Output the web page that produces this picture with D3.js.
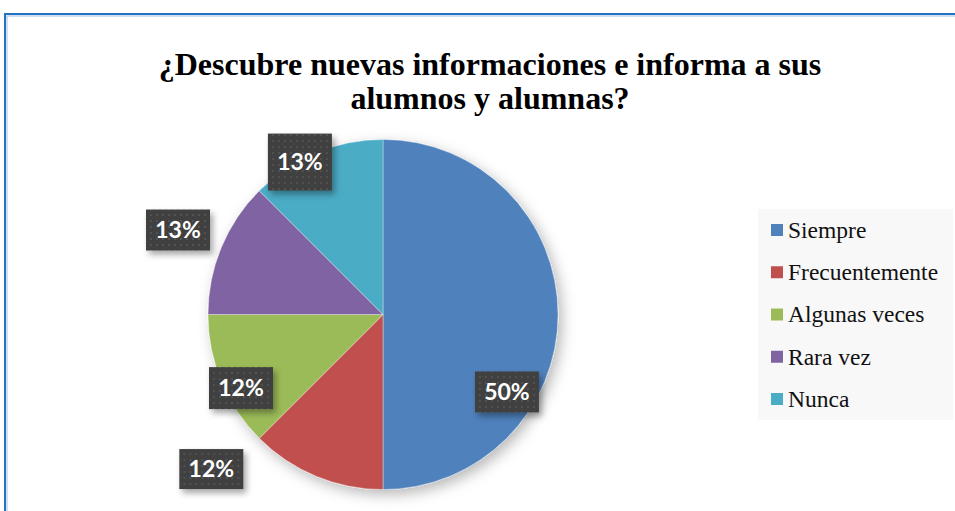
<!DOCTYPE html>
<html>
<head>
<meta charset="utf-8">
<script src="https://cdn.jsdelivr.net/npm/d3@7"></script>
<style>
  body { margin: 0; background: #fff; }
  svg { display: block; }
  .serif { font-family: "Liberation Serif", "Times New Roman", serif; }
  .sans { font-family: Lato, "Open Sans", sans-serif; }
</style>
</head>
<body>
<div id="chart"></div>
<script>
// data
const categories = ["Siempre", "Frecuentemente", "Algunas veces", "Rara vez", "Nunca"]
const values = [50, 12.5, 12.5, 12.5, 12.5]
const valueLabels = ["50%", "12%", "12%", "13%", "13%"]
const colors = ["#4f81bd", "#c0504d", "#9bbb59", "#8064a2", "#4bacc6"]
const titleLines = ["¿Descubre nuevas informaciones e informa a sus", "alumnos y alumnas?"]

// where Excel put each data label: angle (deg, clockwise from top) and distance as share of radius
const labelPlacement = [[122, 0.835], [228, 1.32], [242.6, 0.914], [292.4, 1.267], [331.4, 0.992]]
const labelBoxH = [41, 40, 42, 41, 57]

function drawPie() {
  const width = 955
  const height = 511
  const cx = 383
  const cy = 314.5
  const radius = 175

  const svg = d3.select("#chart")
    .append("svg")
      .attr("width", width)
      .attr("height", height)

  const defs = svg.append("defs")

  const pieShadow = defs.append("filter")
    .attr("id", "pieShadow")
    .attr("x", "-20%").attr("y", "-20%")
    .attr("width", "140%").attr("height", "140%")
  pieShadow.append("feDropShadow")
    .attr("dx", 4).attr("dy", 5)
    .attr("stdDeviation", 7)
    .attr("flood-color", "#000")
    .attr("flood-opacity", 0.28)

  const boxShadow = defs.append("filter")
    .attr("id", "boxShadow")
    .attr("x", "-30%").attr("y", "-30%")
    .attr("width", "160%").attr("height", "160%")
  boxShadow.append("feDropShadow")
    .attr("dx", 3).attr("dy", 4)
    .attr("stdDeviation", 3)
    .attr("flood-color", "#000")
    .attr("flood-opacity", 0.35)

  const dots = defs.append("pattern")
    .attr("id", "dots")
    .attr("width", 6).attr("height", 6)
    .attr("patternUnits", "userSpaceOnUse")
  dots.append("rect").attr("width", 6).attr("height", 6).attr("fill", "#3f3f3f")
  dots.append("rect").attr("x", 2).attr("y", 2).attr("width", 2).attr("height", 2).attr("fill", "#525252")

  // chart frame
  svg.append("rect")
    .attr("x", 5).attr("y", 14)
    .attr("width", 1000).attr("height", 600)
    .attr("fill", "none")
    .attr("stroke", "#2473c2")
    .attr("stroke-width", 2)
  svg.append("rect")
    .attr("x", 7).attr("y", 16)
    .attr("width", 1000).attr("height", 600)
    .attr("fill", "none")
    .attr("stroke", "#9cc2ea")
    .attr("stroke-width", 1)

  // title
  svg.append("text")
    .attr("class", "serif")
    .attr("x", 490)
    .attr("y", 75)
    .attr("text-anchor", "middle")
    .attr("font-weight", "bold")
    .attr("font-size", 32)
    .selectAll("tspan")
    .data(titleLines)
    .join("tspan")
      .attr("x", 490)
      .attr("dy", (d, i) => i === 0 ? 0 : 34)
      .text(d => d)

  // pie
  const pie = d3.pie().sort(null).value(d => d)
  const arcs = pie(values)
  const arc = d3.arc().innerRadius(0).outerRadius(radius)

  const g = svg.append("g")
    .attr("transform", `translate(${cx},${cy})`)

  g.append("g")
    .attr("filter", "url(#pieShadow)")
    .selectAll("path")
    .data(arcs)
    .join("path")
      .attr("d", arc)
      .attr("fill", (d, i) => colors[i])
      .attr("stroke", "rgba(255,255,255,0.35)")
      .attr("stroke-width", 1)

  // data labels
  const boxW = 64
  const labels = g.selectAll(".lab")
    .data(arcs)
    .join("g")
      .attr("class", "lab")
      .attr("transform", (d, i) => {
        const p = d3.pointRadial(labelPlacement[i][0] * Math.PI / 180, labelPlacement[i][1] * radius)
        return `translate(${p[0]},${p[1]})`
      })
  labels.append("rect")
    .attr("x", -boxW / 2)
    .attr("y", (d, i) => -labelBoxH[i] / 2)
    .attr("width", boxW)
    .attr("height", (d, i) => labelBoxH[i])
    .attr("fill", "url(#dots)")
    .attr("filter", "url(#boxShadow)")
  labels.append("text")
    .attr("class", "sans")
    .attr("text-anchor", "middle")
    .attr("dy", "0.36em")
    .attr("fill", "#fff")
    .attr("font-weight", "bold")
    .attr("font-size", 23)
    .text((d, i) => valueLabels[i])

  // legend
  const legend = svg.append("g")
    .attr("transform", "translate(758,209)")
  legend.append("rect")
    .attr("width", 195)
    .attr("height", 211)
    .attr("fill", "#f8f8f8")
  const legendY = d3.scalePoint()
    .domain(categories)
    .range([21, 190])
  const items = legend.selectAll(".item")
    .data(categories)
    .join("g")
      .attr("class", "item")
      .attr("transform", d => `translate(13,${legendY(d)})`)
  items.append("rect")
    .attr("y", -6)
    .attr("width", 12)
    .attr("height", 12)
    .attr("fill", (d, i) => colors[i])
  items.append("text")
    .attr("class", "serif")
    .attr("x", 17)
    .attr("dy", "0.33em")
    .attr("font-size", 23.5)
    .attr("fill", "#111")
    .text(d => d)
}

drawPie()
</script>
</body>
</html>
